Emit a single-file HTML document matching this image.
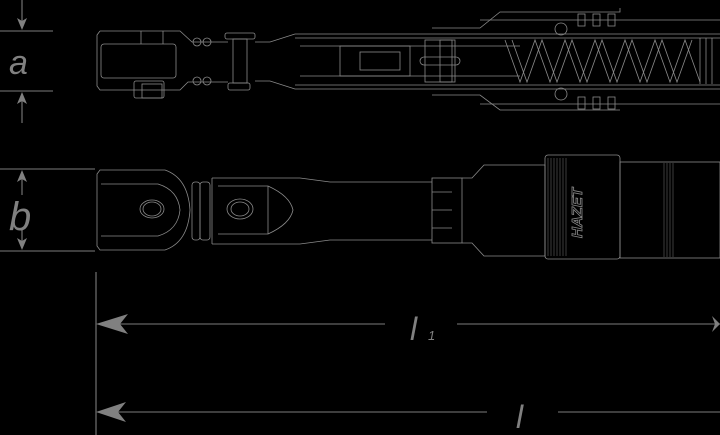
<!DOCTYPE html>
<html><head><style>
html,body{margin:0;padding:0;background:#000;width:720px;height:435px;overflow:hidden}
svg{display:block}
text{font-family:"Liberation Sans",sans-serif;font-style:italic;fill:#808080}
</style></head><body>
<svg width="720" height="435" viewBox="0 0 720 435" xmlns="http://www.w3.org/2000/svg">
<g stroke="#7c7c7c" stroke-width="1.1" fill="none">
<line x1="0" y1="31" x2="53" y2="31"/><line x1="0" y1="91" x2="53" y2="91"/>
<line x1="22" y1="0" x2="22" y2="28"/><line x1="22" y1="94" x2="22" y2="123"/>
<line x1="0" y1="169" x2="95" y2="169"/><line x1="0" y1="251" x2="95" y2="251"/>
<line x1="22" y1="172" x2="22" y2="195"/><line x1="22" y1="228" x2="22" y2="248"/>
<line x1="96" y1="272" x2="96" y2="435"/>
<line x1="100" y1="324" x2="385" y2="324"/><line x1="457" y1="324" x2="720" y2="324"/>
<line x1="100" y1="412" x2="487" y2="412"/><line x1="558" y1="412" x2="720" y2="412"/>
</g>
<g fill="#808080">
<polygon points="22,30 17,18 22,21 27,18"/><polygon points="22,92 17,104 22,101 27,104"/>
<polygon points="22,170 17,182 22,179 27,182"/><polygon points="22,250 17,238 22,241 27,238"/>
<polygon points="96,324 128,314 120,324 128,334"/>
<polygon points="96,412 126,402 118,412 126,422"/>
<polygon points="720,324 712,316 715,324 712,332"/>
</g>
<text x="9" y="74" font-size="34">a</text>
<text x="9" y="230" font-size="40">b</text>
<text x="410" y="340" font-size="32">l</text><text x="428" y="340" font-size="13">1</text>
<text x="516" y="428" font-size="32">l</text>
<g stroke="#8a8a8a" stroke-width="0.8" fill="none">
<path d="M100,31 H180 L192,42 H228 M100,31 L97,35 V86 L100,90 H180 L188,82 H228"/>
<rect x="101" y="44" width="75" height="34" rx="3"/>
<line x1="141" y1="31" x2="141" y2="44"/><line x1="163" y1="31" x2="163" y2="44"/>
<rect x="134" y="81" width="30" height="17" rx="2"/><rect x="142" y="84" width="20" height="14"/>
<circle cx="197" cy="42" r="4"/><circle cx="207" cy="42" r="4"/>
<circle cx="197" cy="81" r="4"/><circle cx="207" cy="81" r="4"/>
<rect x="225" y="33" width="30" height="6" rx="2"/><rect x="233" y="39" width="14" height="44"/>
<rect x="228" y="83" width="22" height="7" rx="2"/>
<path d="M255,42 H270 L295,34 H720 M255,81 H270 L295,89 H720"/>
<path d="M295,38 H720 M295,85 H720"/>
<path d="M300,46 H520 M300,76 H520"/>
<path d="M432,28 H480 L500,12 H620 V8 M432,95 H480 L500,110 H620"/>
<path d="M480,20 H720 M480,104 H720"/>
<rect x="340" y="46" width="70" height="30"/>
<rect x="360" y="52" width="40" height="18"/>
<rect x="425" y="40" width="30" height="42"/>
<rect x="440" y="40" width="12" height="42"/>
<rect x="420" y="57" width="40" height="8" rx="4"/>
<circle cx="561" cy="29" r="6"/><circle cx="561" cy="94" r="6"/>
<rect x="578" y="14" width="7" height="12"/><rect x="593" y="14" width="7" height="12"/><rect x="608" y="14" width="7" height="12"/>
<rect x="578" y="97" width="7" height="12"/><rect x="593" y="97" width="7" height="12"/><rect x="608" y="97" width="7" height="12"/>
<path d="M505,40 L520,82 L535,40 L550,82 L565,40 L580,82 L595,40 L610,82 L625,40 L640,82 L655,40 L670,82 L685,40 L700,82"/>
<path d="M512,40 L527,82 L542,40 L557,82 L572,40 L587,82 L602,40 L617,82 L632,40 L647,82 L662,40 L677,82 L692,40"/>
<line x1="700" y1="38" x2="700" y2="84"/><line x1="706" y1="38" x2="706" y2="84"/><line x1="712" y1="38" x2="712" y2="84"/>
</g>
<g stroke="#8a8a8a" stroke-width="0.8" fill="none">
<path d="M100,170 H165 Q188,178 190,210 Q188,242 165,250 H100 L97,246 V174 Z"/>
<path d="M101,184 H158 Q178,190 180,210 Q178,230 158,236 H101"/>
<ellipse cx="152" cy="209" rx="12" ry="9"/><ellipse cx="152" cy="209" rx="9" ry="7"/>
<rect x="192" y="182" width="8" height="58" rx="3"/><rect x="200" y="182" width="10" height="58" rx="3"/>
<path d="M212,178 H300 L330,182 H432 M212,244 H300 L330,240 H432 M212,178 V244"/>
<path d="M218,186 H268 Q290,196 293,210 Q290,224 268,234 H218"/>
<line x1="268" y1="186" x2="268" y2="234"/>
<ellipse cx="240" cy="209" rx="13" ry="10"/><ellipse cx="240" cy="209" rx="9" ry="7"/>
<rect x="432" y="178" width="30" height="65"/>
<line x1="432" y1="192" x2="452" y2="192"/><line x1="432" y1="210" x2="452" y2="210"/><line x1="432" y1="228" x2="452" y2="228"/>
<path d="M462,178 H472 L484,165 H545 V256 H484 L472,243 H462"/>
<rect x="545" y="155" width="75" height="104" rx="3"/>
<rect x="620" y="162" width="100" height="96"/>
</g>
<g stroke="#656565" stroke-width="0.6">
<path d="M548,158 V256 M551,158 V256 M554,158 V256 M557,158 V256 M560,158 V256 M563,158 V256 M566,158 V256"/>
<path d="M664,163 V257 M667,163 V257 M670,163 V257 M673,163 V257"/>
</g>
<text x="0" y="0" font-size="15" font-weight="bold" transform="translate(582,238) rotate(-90)" style="fill:none;stroke:#8a8a8a;stroke-width:0.8">HAZET</text>
</svg>
</body></html>
